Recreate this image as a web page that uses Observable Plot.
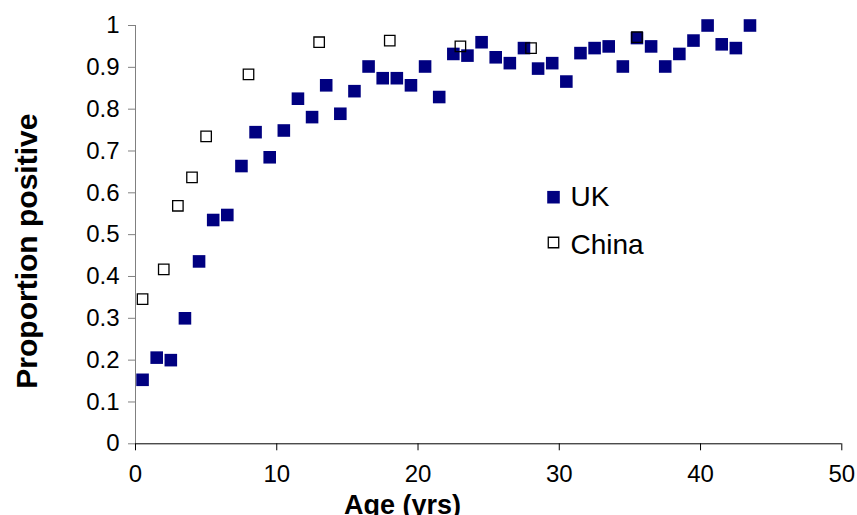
<!DOCTYPE html>
<html>
<head>
<meta charset="utf-8">
<script src="https://cdn.jsdelivr.net/npm/d3@7"></script>
<script src="https://cdn.jsdelivr.net/npm/@observablehq/plot@0.6"></script>
<style>
  html, body { margin: 0; padding: 0; background: #fff; }
</style>
</head>
<body>
<div id="chart"></div>
<script>
// UK: age bins (midpoints) and proportion positive
const ukAge = [0.5, 1.5, 2.5, 3.5, 4.5, 5.5, 6.5, 7.5, 8.5, 9.5, 10.5, 11.5, 12.5, 13.5, 14.5, 15.5, 16.5, 17.5, 18.5, 19.5, 20.5, 21.5, 22.5, 23.5, 24.5, 25.5, 26.5, 27.5, 28.5, 29.5, 30.5, 31.5, 32.5, 33.5, 34.5, 35.5, 36.5, 37.5, 38.5, 39.5, 40.5, 41.5, 42.5, 43.5];
const ukProp = [0.153, 0.206, 0.200, 0.300, 0.436, 0.535, 0.547, 0.664, 0.745, 0.685, 0.749, 0.825, 0.781, 0.857, 0.789, 0.843, 0.902, 0.874, 0.874, 0.857, 0.902, 0.829, 0.932, 0.928, 0.960, 0.924, 0.910, 0.946, 0.897, 0.910, 0.866, 0.934, 0.946, 0.950, 0.902, 0.970, 0.950, 0.902, 0.932, 0.964, 1.000, 0.955, 0.946, 1.000];

// China
const chinaAge = [0.5, 2, 3, 4, 5, 8, 13, 18, 23, 28, 35.5];
const chinaProp = [0.346, 0.417, 0.569, 0.637, 0.735, 0.883, 0.960, 0.964, 0.950, 0.946, 0.972];

const xTicks = [0, 10, 20, 30, 40, 50];
const yTicks = [0, 0.1, 0.2, 0.3, 0.4, 0.5, 0.6, 0.7, 0.8, 0.9, 1];
const yTickLabels = ["0", "0.1", "0.2", "0.3", "0.4", "0.5", "0.6", "0.7", "0.8", "0.9", "1"];

const seriesNames = ["UK", "China"];
const xTitle = "Age (yrs)";
const yTitle = "Proportion positive";

const uk = ukAge.map((a, i) => ({age: a, p: ukProp[i]}));
const china = chinaAge.map((a, i) => ({age: a, p: chinaProp[i]}));

const font = "'Liberation Sans', Arial, Helvetica, sans-serif";

const chart = Plot.plot({
  width: 857,
  height: 515,
  marginLeft: 135,
  marginRight: 15.7,
  marginTop: 25,
  marginBottom: 71.7,
  style: {fontFamily: font, background: "#fff", color: "#000", overflow: "hidden"},
  x: {domain: [0, 50]},
  y: {domain: [0, 1]},
  marks: [
    Plot.axisY({ticks: yTicks, tickFormat: d => yTickLabels[yTicks.indexOf(d)], tickSize: 7, tickPadding: 9, fontSize: 24, stroke: "#808080", fill: "#000", label: null}),
    Plot.axisX({ticks: xTicks, tickSize: 7, tickPadding: 14, fontSize: 24, stroke: "#000", fill: "#000", label: null}),
    Plot.ruleX([0], {stroke: "#808080"}),
    Plot.ruleY([0], {stroke: "#000"}),
    Plot.dot(uk, {x: "age", y: "p", symbol: "square", r: 7.1, fill: "#000080", stroke: "none"}),
    Plot.dot(china, {x: "age", y: "p", symbol: "square", r: 5.9, fill: "none", stroke: "#000", strokeWidth: 1.3}),
    // legend
    Plot.dot([seriesNames[0]], {frameAnchor: "top-left", dx: 418, dy: 171.7, symbol: "square", r: 7.1, fill: "#000080", stroke: "none"}),
    Plot.dot([seriesNames[1]], {frameAnchor: "top-left", dx: 418, dy: 217, symbol: "square", r: 5.9, fill: "none", stroke: "#000", strokeWidth: 1.3}),
    Plot.text([seriesNames[0]], {frameAnchor: "top-left", dx: 435, dy: 180, text: d => d, textAnchor: "start", lineAnchor: "bottom", fontSize: 28, fill: "#000"}),
    Plot.text([seriesNames[1]], {frameAnchor: "top-left", dx: 435, dy: 228.3, text: d => d, textAnchor: "start", lineAnchor: "bottom", fontSize: 28, fill: "#000"}),
    // axis titles
    Plot.text([xTitle], {frameAnchor: "bottom-left", dx: 267, dy: 69.7, text: d => d, textAnchor: "middle", lineAnchor: "bottom", fontSize: 27, fontWeight: "bold", fill: "#000"}),
    Plot.text([yTitle], {frameAnchor: "left", dx: -99, dy: 16.5, rotate: -90, text: d => d, textAnchor: "middle", lineAnchor: "bottom", fontSize: 30, fontWeight: "bold", fill: "#000"})
  ]
});

document.getElementById("chart").appendChild(chart);
</script>
</body>
</html>
